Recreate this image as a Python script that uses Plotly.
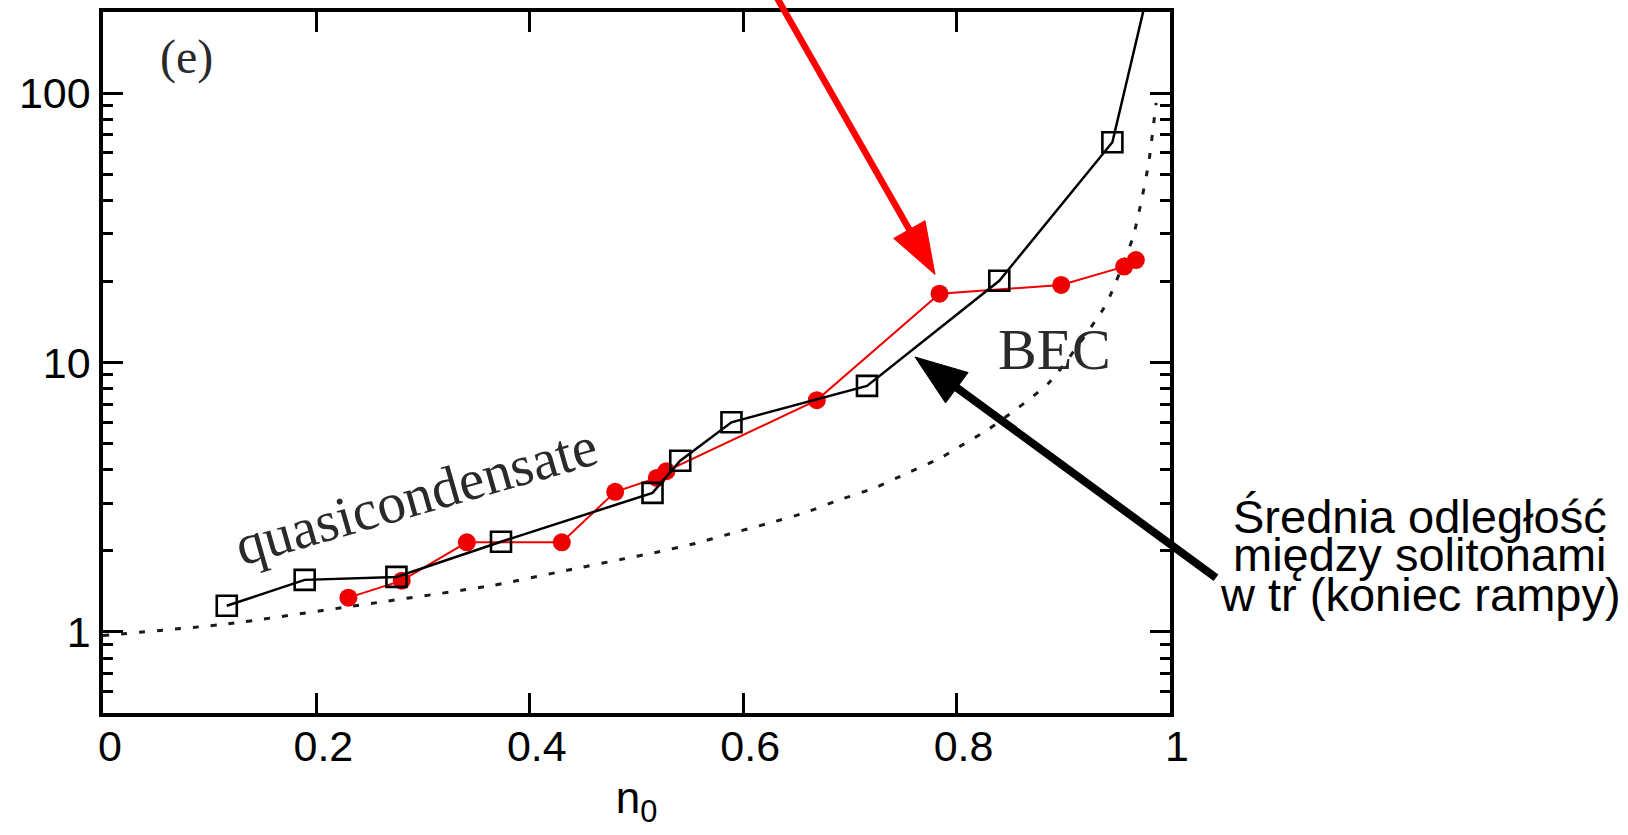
import math
import plotly.graph_objects as go

# ---------------- data ----------------
sq_n0 = [0.116, 0.189, 0.275, 0.373, 0.515, 0.541, 0.589, 0.716, 0.840, 0.946, 0.990]
sq_val = [1.25, 1.56, 1.60, 2.16, 3.28, 4.32, 6.0, 8.19, 20.1, 65.7, 360.0]

red_n0 = [0.230, 0.280, 0.341, 0.430, 0.480, 0.519, 0.528, 0.669, 0.784, 0.898, 0.957, 0.968]
red_val = [1.34, 1.55, 2.15, 2.15, 3.31, 3.73, 3.95, 7.25, 18.0, 19.4, 22.7, 24.0]

dot_n0 = [0.0, 0.116, 0.230, 0.366, 0.434, 0.486, 0.520, 0.555, 0.587, 0.622, 0.658,
          0.689, 0.722, 0.754, 0.786, 0.800, 0.831, 0.887, 0.937, 0.945, 0.965, 0.972,
          0.980, 0.987]
dot_val = [0.97, 1.07, 1.24, 1.49, 1.69, 1.86, 1.98, 2.13, 2.31, 2.52, 2.77,
           3.08, 3.41, 3.89, 4.44, 4.80, 5.69, 8.45, 15.7, 18.1, 28.9, 37.8,
           55.0, 92.0]

x_tickvals = [0, 0.2, 0.4, 0.6, 0.8, 1.0]
x_ticktext = ["0", "0.2", "0.4", "0.6", "0.8", "1"]
y_tickvals = [1, 10, 100]
y_ticktext = ["1", "10", "100"]
y_minor_vals = [0.5, 0.6, 0.7, 0.8, 0.9,
                2, 3, 4, 5, 6, 7, 8, 9,
                20, 30, 40, 50, 60, 70, 80, 90, 200]

# ---------------- layout geometry ----------------
FW, FH = 1628, 835
L, R, T, B = 103, 458, 8, 122
W = FW - L - R
H = FH - T - B


def px(x):
    return (x - L) / W


def py(y):
    return (FH - B - y) / H


SANS = "Liberation Sans, Arial, sans-serif"
SERIF = "Liberation Serif, Times New Roman, serif"

fig = go.Figure()

fig.add_trace(go.Scatter(
    x=dot_n0, y=dot_val, mode="lines",
    line=dict(color="#1a1a1a", width=3, dash="6px,12px", shape="spline", smoothing=0.6),
    showlegend=False, hoverinfo="skip"))

fig.add_trace(go.Scatter(
    x=red_n0, y=red_val, mode="lines+markers",
    line=dict(color="#ee0000", width=2),
    marker=dict(symbol="circle", size=18, color="#ee0000", line=dict(width=0)),
    showlegend=False))

fig.add_trace(go.Scatter(
    x=sq_n0, y=sq_val, mode="lines+markers",
    line=dict(color="black", width=2.5),
    marker=dict(symbol="square-open", size=20, color="black", line=dict(width=2.6, color="black")),
    showlegend=False))

fig.update_xaxes(
    range=[0, 1], tickvals=x_tickvals, ticktext=x_ticktext,
    ticks="inside", ticklen=20, tickwidth=3, tickcolor="black",
    showline=True, linewidth=3.5, linecolor="black", mirror="ticks",
    showgrid=False, zeroline=False, ticklabelshift=7, ticklabelstandoff=-7,
    tickfont=dict(family=SANS, size=43, color="black"),
    title=dict(text="n<sub>0</sub>", font=dict(family=SANS, size=44, color="black"), standoff=14),
)
fig.update_yaxes(
    type="log", range=[math.log10(0.5), math.log10(200)],
    tickvals=y_tickvals, ticktext=y_ticktext,
    ticks="inside", ticklen=20, tickwidth=3, tickcolor="black",
    minor=dict(ticks="inside", ticklen=10, tickwidth=3, tickcolor="black",
               showgrid=False, tickvals=y_minor_vals),
    showline=True, linewidth=3.5, linecolor="black", mirror="ticks",
    showgrid=False, zeroline=False,
    tickfont=dict(family=SANS, size=43, color="black"),
)


def arrow(x0, y0, x1, y1, color, width, hl, hw):
    dx, dy = x1 - x0, y1 - y0
    d = math.hypot(dx, dy)
    ux, uy = dx / d, dy / d
    bx, by = x1 - ux * hl, y1 - uy * hl
    fig.add_shape(type="line", xref="paper", yref="paper",
                  x0=px(x0), y0=py(y0), x1=px(bx + ux * 3), y1=py(by + uy * 3),
                  line=dict(color=color, width=width))
    c1 = (bx - uy * hw / 2, by + ux * hw / 2)
    c2 = (bx + uy * hw / 2, by - ux * hw / 2)
    path = "M {},{} L {},{} L {},{} Z".format(px(x1), py(y1), px(c1[0]), py(c1[1]),
                                              px(c2[0]), py(c2[1]))
    fig.add_shape(type="path", xref="paper", yref="paper", path=path,
                  fillcolor=color, line=dict(color=color, width=1))


arrow(776, -8, 935, 272, "#ff0000", 6.5, 52, 36)
arrow(1216, 577, 915, 355, "black", 8, 52, 38)

fig.add_annotation(x=px(186), y=py(53.5), xref="paper", yref="paper", text="(e)",
                   showarrow=False, xanchor="center", yanchor="middle",
                   font=dict(family=SERIF, size=48, color="#2a2a2a"))
fig.add_annotation(x=px(1054), y=py(347), xref="paper", yref="paper", text="BEC",
                   showarrow=False, xanchor="center", yanchor="middle",
                   font=dict(family=SERIF, size=58, color="#2a2a2a"))
fig.add_annotation(x=px(416), y=py(494), xref="paper", yref="paper", text="quasicondensate",
                   showarrow=False, xanchor="center", yanchor="middle", textangle=-16,
                   font=dict(family=SERIF, size=57, color="#2a2a2a"))

note_lines = ["Średnia odległość", "między solitonami", "w tr (koniec rampy)"]
note_centers = [515, 554, 594]
for txt, yc in zip(note_lines, note_centers):
    fig.add_annotation(x=px(1420), y=py(yc), xref="paper", yref="paper", text=txt,
                       showarrow=False, xanchor="center", yanchor="middle",
                       font=dict(family=SANS, size=47, color="black"))

fig.update_layout(
    width=FW, height=FH, autosize=False,
    margin=dict(l=L, r=R, t=T, b=B, pad=0),
    plot_bgcolor="white", paper_bgcolor="white",
    showlegend=False,
)

fig.write_html("out.html")
